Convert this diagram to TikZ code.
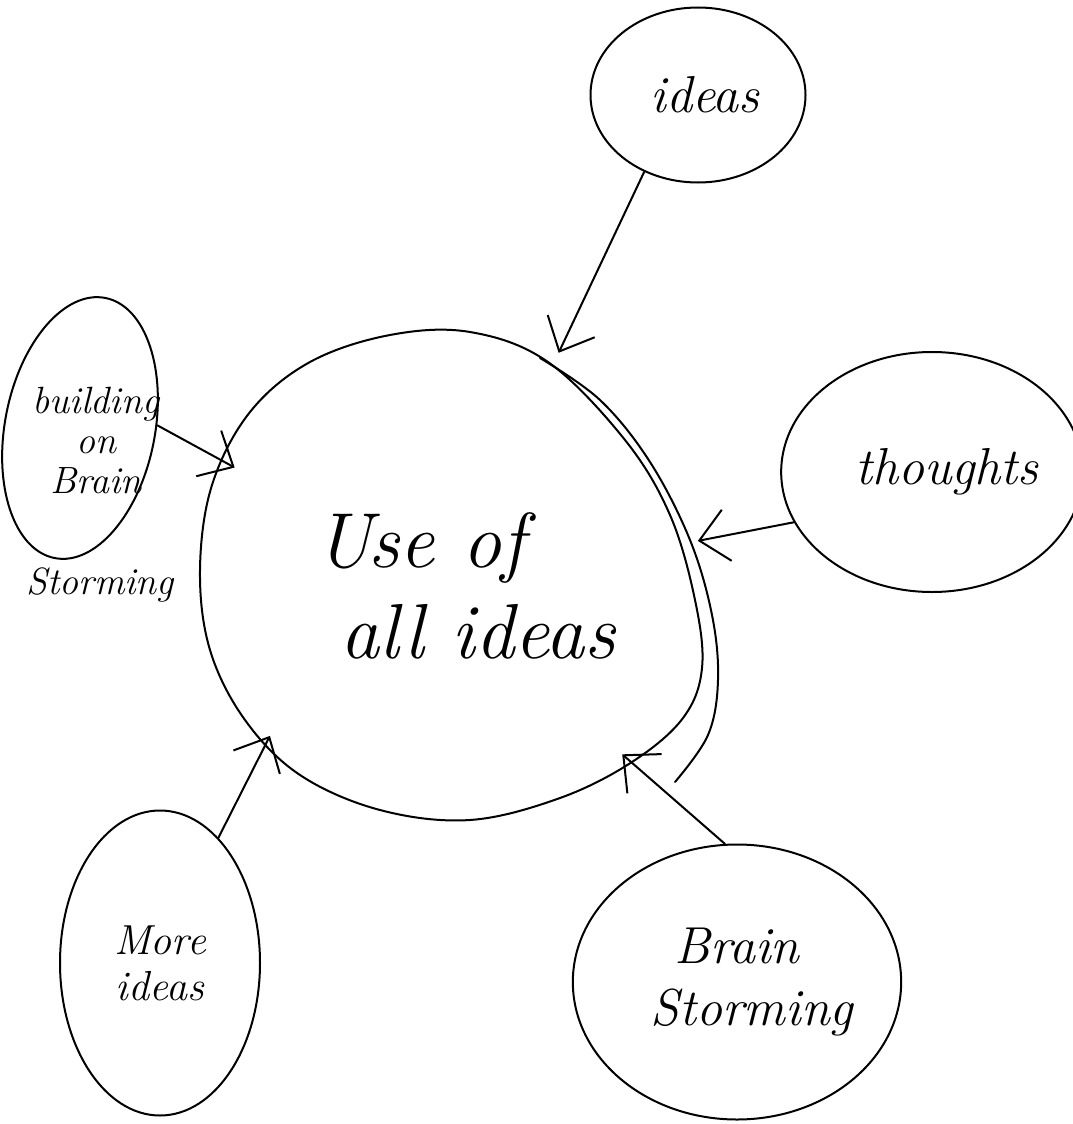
\documentclass[tikz,border=0pt]{standalone}
\usetikzlibrary{shapes.geometric,arrows.meta}
\begin{document}
\begin{tikzpicture}[x=1pt,y=-1pt,
  hand/.style={line width=2pt, line cap=round, line join=round},
  bubble/.style={hand, draw, ellipse, inner sep=0pt, align=center},
  conn/.style={hand, -{Straight Barb[length=28pt,width=52pt,line width=2pt]}},
  big/.style={font=\itshape\fontsize{78}{82}\selectfont},
  mid/.style={font=\itshape\fontsize{52}{62}\selectfont},
  sml/.style={font=\itshape\fontsize{42}{46}\selectfont},
  tiny/.style={font=\itshape\fontsize{38}{40}\selectfont}]
\useasboundingbox (0,0) rectangle (1073,1124);

% central idea
\node[circle, minimum size=490, inner sep=0pt] (c) at (455,575) {};
\draw[hand] plot[smooth cycle, tension=0.6] coordinates {
  (548,362) (470,332) (390,335) (310,362) (250,412) (212,485) (200,570)
  (210,650) (245,720) (300,775) (380,810) (470,820) (560,798) (632,762)
  (683,718) (702,668) (695,600) (670,515) (625,440)};
\draw[hand] plot[smooth, tension=0.6] coordinates {
  (540,358) (600,400) (650,462) (690,540) (712,615) (718,680) (708,735) (675,782)};
\node[big] (ct1) at (420,548) {Use of};
\node[big] (ct2) at (478,632) {all ideas};

% satellites
\node[bubble, minimum width=215, minimum height=175, mid] (i) at (698,95) {\hspace*{14pt}ideas};
\node[bubble, minimum width=256, minimum height=240, mid] (t) at (932,472) {\hspace*{30pt}thoughts};
\node[bubble, minimum width=250, minimum height=275, mid] (b) at (737,982) {Brain\\\hspace*{30pt}Storming};
\node[bubble, minimum width=200, minimum height=305, sml] (m) at (160,963) {More\\ideas};
\node[bubble, minimum width=150, minimum height=265, rotate=-11] (lb) at (80,428) {};
\node[tiny, align=center] (lt) at (96,440) {building\\on\\Brain};
\node[tiny] (ls) at (100,585) {Storming};

% connectors
\draw[conn] (i.235) -- (c.65);
\draw[conn] (t.200) -- (c.8);
\draw[conn] (b.95) -- (c.-47);
\draw[conn] (m.65) -- (c.221);
\draw[conn] (lb.13) -- (c.154);
\end{tikzpicture}
\end{document}
